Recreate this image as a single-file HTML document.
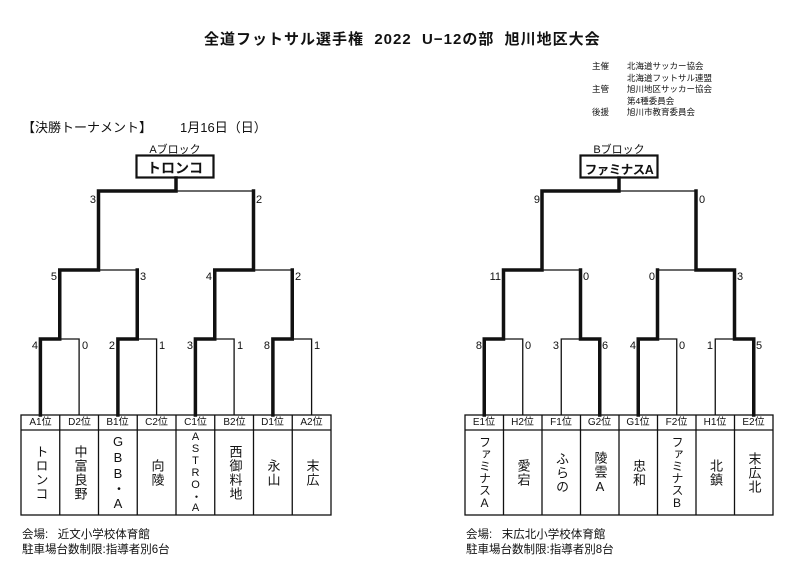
<!DOCTYPE html>
<html><head><meta charset="utf-8">
<style>
body{margin:0;background:#fff;width:800px;height:574px;position:relative;overflow:hidden;font-family:"Liberation Sans","Noto Sans CJK JP",sans-serif;color:#111}
.a{position:absolute;white-space:nowrap}
.cell{position:absolute;top:430px;height:85px;display:flex;align-items:center;justify-content:center}
.v{writing-mode:vertical-rl;text-orientation:upright;font-size:13px;line-height:14px;letter-spacing:1px}
.vs{font-size:11px;letter-spacing:0;line-height:12px}
.hd{position:absolute;top:416px;height:14px;font-size:10px;text-align:center;line-height:14px}
</style></head><body>
<div class="a" style="left:204px;top:28px;font-size:15px;font-weight:bold;letter-spacing:1px">全道フットサル選手権&nbsp; 2022&nbsp; U−12の部&nbsp; 旭川地区大会</div>
<div class="a" style="left:592px;top:61px;font-size:8.5px;line-height:11.5px">主催<br><br>主管<br><br>後援</div>
<div class="a" style="left:627px;top:61px;font-size:8.5px;line-height:11.5px">北海道サッカー協会<br>北海道フットサル連盟<br>旭川地区サッカー協会<br>第4種委員会<br>旭川市教育委員会</div>
<div class="a" style="left:22px;top:117px;font-size:13px">【決勝トーナメント】</div>
<div class="a" style="left:180px;top:117px;font-size:13px">1月16日（日）</div>
<div class="a" style="left:145px;top:141px;font-size:11px;width:60px;text-align:center">Aブロック</div>
<div class="a" style="left:589px;top:141px;font-size:11px;width:60px;text-align:center">Bブロック</div>
<svg width="800" height="574" style="position:absolute;left:0;top:0" fill="none" stroke="#111">
<g stroke-width="1.3">
<rect x="136.5" y="155.5" width="77" height="22" stroke-width="2.2"/>
<rect x="580.5" y="155.5" width="77" height="22" stroke-width="2.2"/>
<rect x="21" y="415" width="310" height="100"/>
<line x1="21" y1="430" x2="331" y2="430"/>
<rect x="465" y="415" width="308" height="100"/>
<line x1="465" y1="430" x2="773" y2="430"/>
<path d="M59.75 415V515M98.5 415V515M137.25 415V515M176 415V515M214.75 415V515M253.5 415V515M292.25 415V515"/>
<path d="M503.5 415V515M542 415V515M580.5 415V515M619 415V515M657.5 415V515M696 415V515M734.5 415V515"/>
<path d="M79.1 415V339H59.75M156.6 415V339H137.25M234.1 415V339H214.75M311.6 415V339H292.25M98.5 270H137.25M253.5 270H292.25M176 191H253.5"/>
<path d="M522.75 415V339H503.5M561.25 415V339H580.5M676.75 415V339H657.5M715.25 415V339H734.5M542 270H580.5M657.5 270H696M619 191H696"/>
</g>
<g stroke-width="3.5" stroke-linejoin="miter" stroke-linecap="square">
<path d="M40.4 415V339H59.75V270H98.5V191H176V178"/>
<path d="M117.9 415V339H137.25V270"/>
<path d="M195.4 415V339H214.75V270H253.5V191"/>
<path d="M272.9 415V339H292.25V270"/>
<path d="M484.25 415V339H503.5V270H542V191H619V178"/>
<path d="M599.75 415V339H580.5V270"/>
<path d="M638.25 415V339H657.5V270"/>
<path d="M753.75 415V339H734.5V270H696V191"/>
</g>
<g fill="#111" stroke="none" font-size="11" font-family="Liberation Sans,sans-serif">
<text x="96" y="203" text-anchor="end">3</text><text x="256" y="203">2</text>
<text x="57" y="280" text-anchor="end">5</text><text x="140" y="280">3</text>
<text x="212" y="280" text-anchor="end">4</text><text x="295" y="280">2</text>
<text x="38" y="349" text-anchor="end">4</text><text x="82" y="349">0</text>
<text x="115" y="349" text-anchor="end">2</text><text x="159" y="349">1</text>
<text x="193" y="349" text-anchor="end">3</text><text x="237" y="349">1</text>
<text x="270" y="349" text-anchor="end">8</text><text x="314" y="349">1</text>
<text x="540" y="203" text-anchor="end">9</text><text x="699" y="203">0</text>
<text x="501" y="280" text-anchor="end">11</text><text x="583" y="280">0</text>
<text x="655" y="280" text-anchor="end">0</text><text x="737" y="280">3</text>
<text x="482" y="349" text-anchor="end">8</text><text x="525" y="349">0</text>
<text x="559" y="349" text-anchor="end">3</text><text x="602" y="349">6</text>
<text x="636" y="349" text-anchor="end">4</text><text x="679" y="349">0</text>
<text x="713" y="349" text-anchor="end">1</text><text x="756" y="349">5</text>
</g>
</svg>
<div class="a" style="left:136px;top:158px;width:78px;text-align:center;font-size:14px;font-weight:bold">トロンコ</div>
<div class="a" style="left:580px;top:159px;width:78px;text-align:center;font-size:12.5px;font-weight:bold;letter-spacing:-0.5px">ファミナスA</div>

<div class="hd" style="left:21px;width:39px">A1位</div><div class="hd" style="left:60px;width:39px">D2位</div><div class="hd" style="left:98px;width:39px">B1位</div><div class="hd" style="left:137px;width:39px">C2位</div><div class="hd" style="left:176px;width:39px">C1位</div><div class="hd" style="left:215px;width:39px">B2位</div><div class="hd" style="left:253px;width:39px">D1位</div><div class="hd" style="left:292px;width:39px">A2位</div>
<div class="hd" style="left:465px;width:38px">E1位</div><div class="hd" style="left:503px;width:39px">H2位</div><div class="hd" style="left:542px;width:38px">F1位</div><div class="hd" style="left:580px;width:39px">G2位</div><div class="hd" style="left:619px;width:38px">G1位</div><div class="hd" style="left:657px;width:39px">F2位</div><div class="hd" style="left:696px;width:38px">H1位</div><div class="hd" style="left:734px;width:39px">E2位</div>

<div class="cell" style="left:21px;width:39px"><span class="v">トロンコ</span></div>
<div class="cell" style="left:60px;width:39px"><span class="v">中富良野</span></div>
<div class="cell" style="left:98px;width:39px"><span class="v">GBB・A</span></div>
<div class="cell" style="left:137px;width:39px"><span class="v">向陵</span></div>
<div class="cell" style="left:176px;width:39px"><span class="v vs">ASTRO・A</span></div>
<div class="cell" style="left:215px;width:39px"><span class="v">西御料地</span></div>
<div class="cell" style="left:253px;width:39px"><span class="v">永山</span></div>
<div class="cell" style="left:292px;width:39px"><span class="v">末広</span></div>

<div class="cell" style="left:465px;width:38px"><span class="v vs" style="font-size:12px;line-height:13px">ファミナスA</span></div>
<div class="cell" style="left:503px;width:39px"><span class="v">愛宕</span></div>
<div class="cell" style="left:542px;width:38px"><span class="v">ふらの</span></div>
<div class="cell" style="left:580px;width:39px"><span class="v">陵雲A</span></div>
<div class="cell" style="left:619px;width:38px"><span class="v">忠和</span></div>
<div class="cell" style="left:657px;width:39px"><span class="v vs" style="font-size:12px;line-height:13px">ファミナスB</span></div>
<div class="cell" style="left:696px;width:38px"><span class="v">北鎮</span></div>
<div class="cell" style="left:734px;width:39px"><span class="v">末広北</span></div>

<div class="a" style="left:22px;top:528px;font-size:11.5px;line-height:15px">会場:&nbsp;&nbsp; 近文小学校体育館<br>駐車場台数制限:指導者別6台</div>
<div class="a" style="left:466px;top:528px;font-size:11.5px;line-height:15px">会場:&nbsp;&nbsp; 末広北小学校体育館<br>駐車場台数制限:指導者別8台</div>
</body></html>
